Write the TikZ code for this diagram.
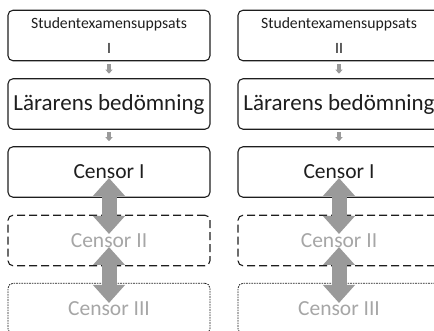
\documentclass[tikz,border=0pt]{standalone}
\usepackage{fontspec}
\setmainfont{Carlito}
\usetikzlibrary{arrows.meta}
\definecolor{inkdark}{HTML}{1E1E1E}
\definecolor{inkfaint}{HTML}{A6A6A6}
\definecolor{arrowgray}{HTML}{9A9A9A}
\tikzset{
  stagebox/.style={draw=inkdark, line width=1.1pt, rounded corners=5pt,
    minimum width=202pt, minimum height=50.5pt, inner sep=0pt,
    text=inkdark, font=\fontsize{21.5}{24}\selectfont},
  teacherbox/.style={stagebox, font=\fontsize{23}{26}\selectfont},
  studentbox/.style={stagebox, align=center,
    font=\fontsize{15.7}{25}\selectfont},
  secondbox/.style={stagebox, dash pattern=on 8pt off 4pt, text=inkfaint},
  thirdbox/.style={stagebox, line width=0.8pt, dash pattern=on 1.6pt off 1pt, text=inkfaint},
  steparrow/.style={draw=arrowgray, line width=4.3pt,
    -{Triangle[width=7pt,length=4pt]}},
  swaparrow/.style={draw=arrowgray, line width=15pt,
    {Triangle[width=31pt,length=18pt]}-{Triangle[width=31pt,length=18pt]}}
}
\begin{document}
\begin{tikzpicture}[x=1pt, y=-1pt]
  \useasboundingbox (0,0) rectangle (434,331);
  \clip (0,0) rectangle (434,331);
  \foreach \col/\num/\cx in {a/I/109, b/II/339} {
    \node[studentbox] (s\col) at (\cx,35.5) {Studentexamensuppsats\\\num};
    \node[teacherbox] (l\col) at (\cx,104)  {Lärarens bedömning};
    \node[stagebox]   (c\col) at (\cx,172)  {Censor I};
    \node[secondbox]  (d\col) at (\cx,240.5) {Censor II};
    \node[thirdbox]   (e\col) at (\cx,308.5) {Censor III};
    \draw[steparrow] ([yshift=-3pt]s\col.south) -- ([yshift=4.5pt]l\col.north);
    \draw[steparrow] ([yshift=-2.5pt]l\col.south) -- ([yshift=5pt]c\col.north);
    \draw[swaparrow] ([yshift=-6pt]c\col.center) -- ([yshift=6.5pt]d\col.center);
    \draw[swaparrow] ([yshift=-6.5pt]d\col.center) -- ([yshift=5.5pt]e\col.center);
  }
\end{tikzpicture}
\end{document}
